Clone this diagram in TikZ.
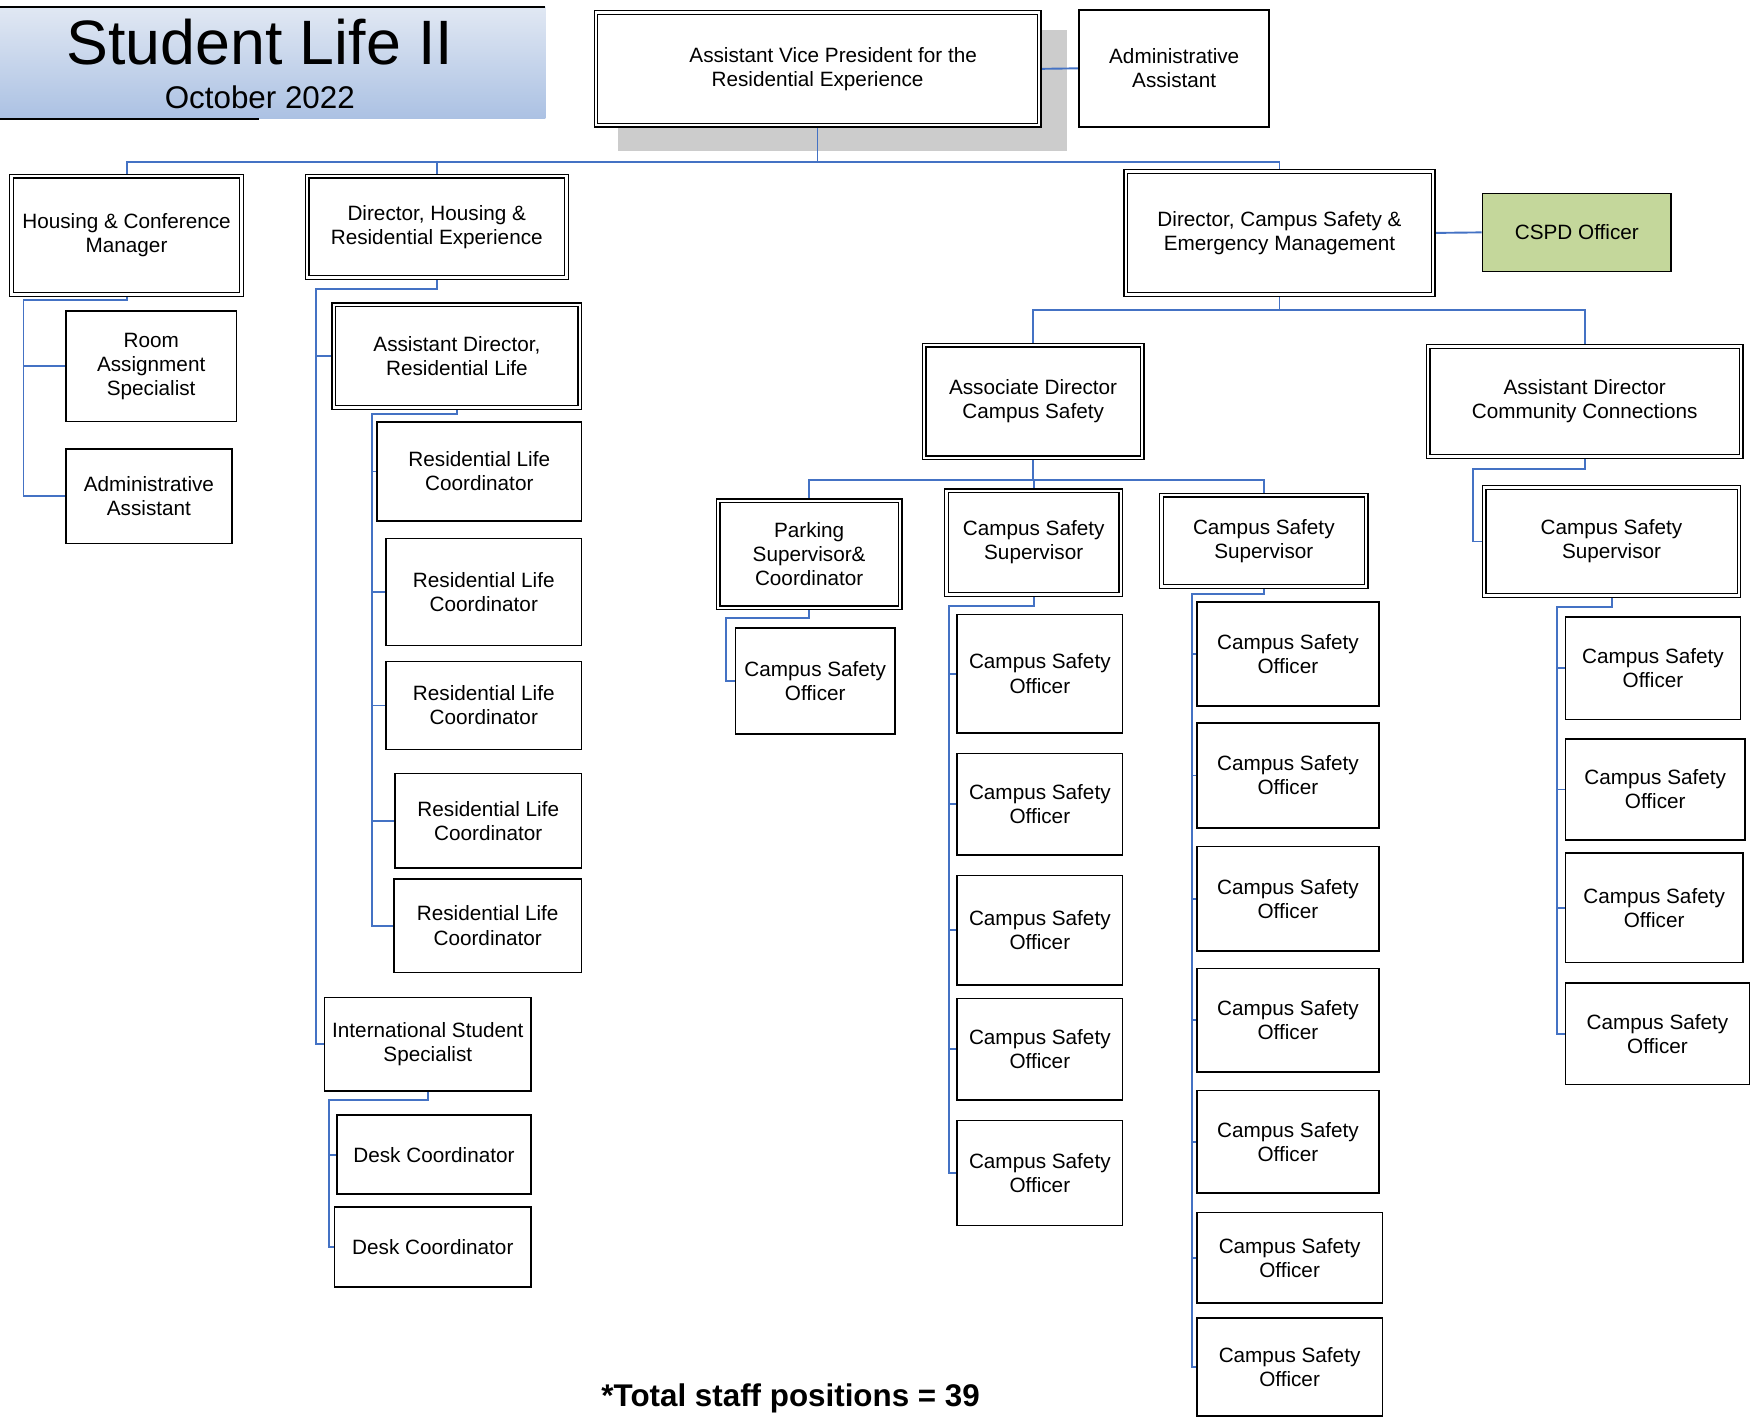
\documentclass[tikz,border=0pt]{standalone}
\usepackage{fontspec}
\setmainfont{Liberation Sans}
\usetikzlibrary{backgrounds}
\definecolor{connblue}{RGB}{68,114,196}
\definecolor{shadowgray}{RGB}{204,204,204}
\definecolor{cspdgreen}{RGB}{196,215,155}
\definecolor{bantop}{RGB}{225,232,243}
\definecolor{banbot}{RGB}{171,193,227}
\tikzset{
  lbl/.style={inner sep=0pt, align=center, font=\fontsize{18.5}{21.5}\selectfont},
  box/.style={lbl, draw=black, line width=1.4pt, fill=white},
  dbox/.style={lbl, draw=black, line width=1.1pt, double=white, double distance=2.2pt, fill=white},
  ssz/.style 2 args={minimum width=#1pt-1.4pt, minimum height=#2pt-1.4pt},
  dsz/.style 2 args={minimum width=#1pt-4.4pt, minimum height=#2pt-4.4pt},
  cn/.style={draw=connblue, line width=1.7pt},
}
\begin{document}
\begin{tikzpicture}[x=1pt,y=-1pt]
\useasboundingbox (0,0) rectangle (1568,1266);

% title banner
\shade[top color=bantop, bottom color=banbot] (0,6) rectangle (487,106);
\draw[line width=1.5pt] (0,6) -- (487,6);
\draw[line width=1.5pt] (0,106) -- (231,106);
\node[inner sep=0pt, anchor=base, font=\fontsize{56}{60}\selectfont] (title) at (232,58) {Student Life II};
\node[inner sep=0pt, anchor=base, font=\fontsize{28}{32}\selectfont] (date) at (232,97) {October 2022};

% top level
\node[dbox, dsz={400}{105}] (avp) at (730,61.5) {\hspace{28pt}Assistant Vice President for the\\Residential Experience};
\node[box, ssz={171}{106}] (aa) at (1048.5,61) {Administrative\\Assistant};

% second level
\node[dbox, dsz={210}{110}] (hcm) at (113,210) {Housing \& Conference\\Manager};
\node[dbox, dsz={236}{95}] (dhre) at (390,202.5) {Director, Housing \&\\Residential Experience};
\node[dbox, dsz={279}{114}] (dcs) at (1142.5,208) {Director, Campus Safety \&\\Emergency Management};
\node[box, ssz={170}{71}, fill=cspdgreen] (cspd) at (1408,207.5) {CSPD Officer};

% housing & conference
\node[box, ssz={154}{100}] (ras) at (135,327) {Room\\Assignment\\Specialist};
\node[box, ssz={150}{86}] (aa2) at (133,443) {Administrative\\Assistant};

% director housing
\node[dbox, dsz={224}{96}] (adrl) at (408,318) {Assistant Director,\\Residential Life};
\node[box, ssz={184}{90}] (rlc1) at (428,421) {Residential Life\\Coordinator};
\node[box, ssz={176}{97}] (rlc2) at (432,528.5) {Residential Life\\Coordinator};
\node[box, ssz={176}{80}] (rlc3) at (432,630) {Residential Life\\Coordinator};
\node[box, ssz={168}{86}] (rlc4) at (436,733) {Residential Life\\Coordinator};
\node[box, ssz={169}{85}] (rlc5) at (435.5,826.5) {Residential Life\\Coordinator};
\node[box, ssz={186}{85}] (iss) at (382,932.5) {International Student\\Specialist};
\node[box, ssz={175}{72}] (dc1) at (387.5,1031) {Desk Coordinator};
\node[box, ssz={177}{73}] (dc2) at (386.5,1113.5) {Desk Coordinator};

% campus safety
\node[dbox, dsz={199}{105}] (adcs) at (922.5,358.5) {Associate Director\\Campus Safety};
\node[dbox, dsz={284}{103}] (adcc) at (1415,358.5) {Assistant Director\\Community Connections};
\node[dbox, dsz={167}{100}] (pk) at (722.5,495) {Parking\\Supervisor\&\\Coordinator};
\node[dbox, dsz={160}{97}] (cssA) at (923,484.5) {Campus Safety\\Supervisor};
\node[dbox, dsz={187}{86}] (cssB) at (1128.5,483) {Campus Safety\\Supervisor};
\node[dbox, dsz={232}{101}] (cssC) at (1439,483.5) {Campus Safety\\Supervisor};
\node[box, ssz={144}{96}] (pcso) at (728,608) {Campus Safety\\Officer};

\node[box, ssz={149}{107}] (a1) at (928.5,601.5) {Campus Safety\\Officer};
\node[box, ssz={149}{92}] (a2) at (928.5,718) {Campus Safety\\Officer};
\node[box, ssz={149}{99}] (a3) at (928.5,830.5) {Campus Safety\\Officer};
\node[box, ssz={149}{92}] (a4) at (928.5,937) {Campus Safety\\Officer};
\node[box, ssz={149}{95}] (a5) at (928.5,1047.5) {Campus Safety\\Officer};

\node[box, ssz={164}{94}] (b1) at (1150,584) {Campus Safety\\Officer};
\node[box, ssz={164}{95}] (b2) at (1150,692.5) {Campus Safety\\Officer};
\node[box, ssz={164}{95}] (b3) at (1150,802.5) {Campus Safety\\Officer};
\node[box, ssz={164}{94}] (b4) at (1150,911) {Campus Safety\\Officer};
\node[box, ssz={164}{93}] (b5) at (1150,1019.5) {Campus Safety\\Officer};
\node[box, ssz={167}{82}] (b6) at (1151.5,1123) {Campus Safety\\Officer};
\node[box, ssz={167}{89}] (b7) at (1151.5,1220.5) {Campus Safety\\Officer};

\node[box, ssz={158}{93}] (c1) at (1476,596.5) {Campus Safety\\Officer};
\node[box, ssz={162}{92}] (c2) at (1478,705) {Campus Safety\\Officer};
\node[box, ssz={160}{99}] (c3) at (1477,810.5) {Campus Safety\\Officer};
\node[box, ssz={166}{92}] (c4) at (1480,923) {Campus Safety\\Officer};

\node[inner sep=0pt, font=\bfseries\fontsize{28}{32}\selectfont] (total) at (706,1248.5) {*Total staff positions = 39};

\begin{scope}[on background layer]
  \fill[shadowgray] (552,27) rectangle (953,135);
  % bus coordinates
  \coordinate (topbus) at (0,145);
  \coordinate (hb) at (21,268);
  \coordinate (db) at (282,258);
  \coordinate (rb) at (332,370);
  \coordinate (ib) at (294,982);
  \coordinate (cb) at (0,277);
  \coordinate (ab) at (0,429);
  \coordinate (pb) at (648,552);
  \coordinate (Ab) at (847,541);
  \coordinate (Bb) at (1064,530);
  \coordinate (Cb) at (1315,419);
  \coordinate (Db) at (1390,542);

  % top
  \draw[cn] (avp.south) -- (avp.south |- topbus);
  \draw[cn] (hcm.north) |- (dcs.north |- topbus) -- (dcs.north);
  \draw[cn] (dhre.north) -- (dhre.north |- topbus);
  \draw[cn] (avp.east) -- (aa.west);
  \draw[cn] (dcs.east) -- (cspd.west);

  % housing & conference
  \draw[cn] (hcm.south) |- (hb) -- (hb |- aa2.west) -- (aa2.west);
  \draw[cn] (hb |- ras.west) -- (ras.west);

  % director housing
  \draw[cn] (dhre.south) |- (db) -- (db |- iss.west) -- (iss.west);
  \draw[cn] (db |- adrl.west) -- (adrl.west);
  \draw[cn] (adrl.south) |- (rb) -- (rb |- rlc5.west) -- (rlc5.west);
  \foreach \n in {rlc1,rlc2,rlc3,rlc4}{\draw[cn] (rb |- \n.west) -- (\n.west);}
  \draw[cn] (iss.south) |- (ib) -- (ib |- dc2.west) -- (dc2.west);
  \draw[cn] (ib |- dc1.west) -- (dc1.west);

  % campus safety
  \draw[cn] (dcs.south) -- (dcs.south |- cb);
  \draw[cn] (adcs.north) |- (adcc.north |- cb) -- (adcc.north);
  \draw[cn] (adcs.south) -- (adcs.south |- ab);
  \draw[cn] (pk.north) |- (cssB.north |- ab) -- (cssB.north);
  \draw[cn] (cssA.north) -- (cssA.north |- ab);
  \draw[cn] (pk.south) |- (pb) -- (pb |- pcso.west) -- (pcso.west);
  \draw[cn] (cssA.south) |- (Ab) -- (Ab |- a5.west) -- (a5.west);
  \foreach \n in {a1,a2,a3,a4}{\draw[cn] (Ab |- \n.west) -- (\n.west);}
  \draw[cn] (cssB.south) |- (Bb) -- (Bb |- b7.west) -- (b7.west);
  \foreach \n in {b1,b2,b3,b4,b5,b6}{\draw[cn] (Bb |- \n.west) -- (\n.west);}
  \draw[cn] (adcc.south) |- (Cb) -- (Cb |- cssC.west) -- (cssC.west);
  \draw[cn] (cssC.south) |- (Db) -- (Db |- c4.west) -- (c4.west);
  \foreach \n in {c1,c2,c3}{\draw[cn] (Db |- \n.west) -- (\n.west);}
\end{scope}
\end{tikzpicture}
\end{document}
